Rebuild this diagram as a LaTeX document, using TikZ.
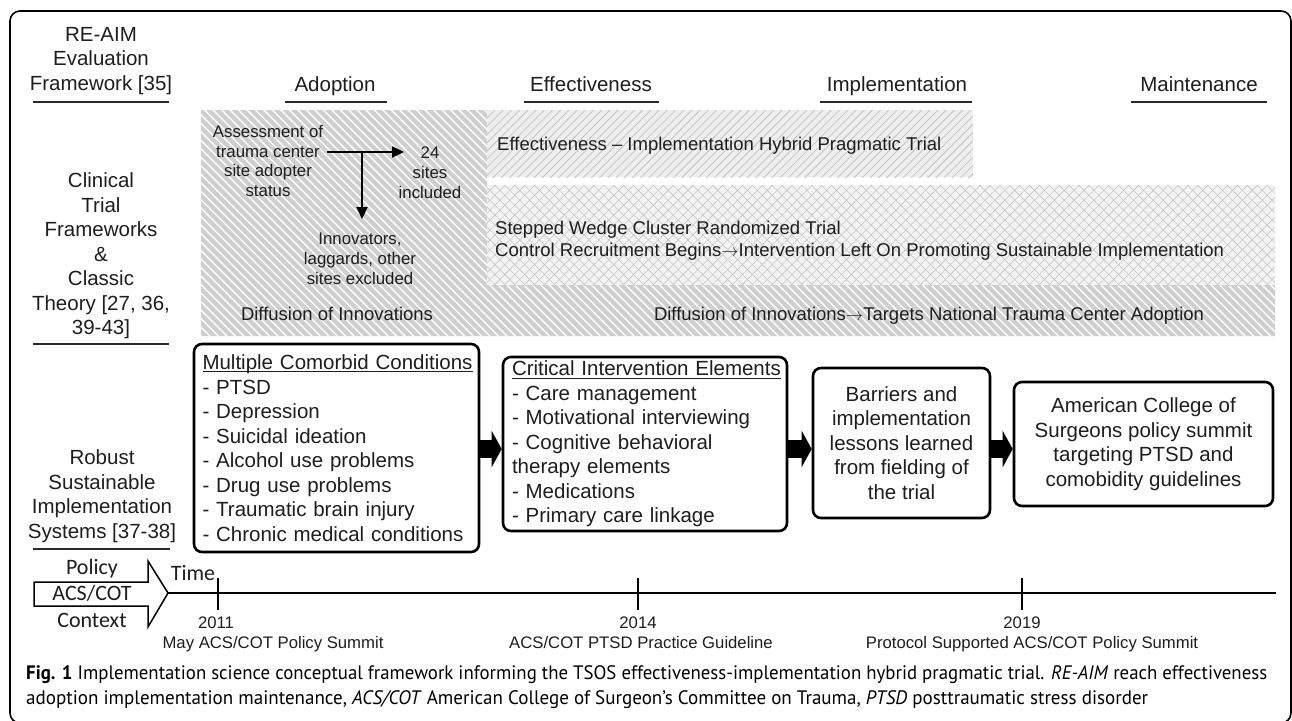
\documentclass[tikz,border=0pt]{standalone}
\usepackage{fontspec}
\setmainfont{Liberation Sans}
\newfontfamily\calfont{Carlito}
\newfontfamily\capfont{PT Sans}
\usetikzlibrary{patterns.meta,arrows.meta}
\definecolor{txt}{HTML}{1E1E1E}
\definecolor{ulgray}{HTML}{2A2A2A}
\definecolor{darkfill}{HTML}{CFCFCF}
\definecolor{lightfill}{HTML}{EEEEEE}
\definecolor{hatch}{HTML}{C2C2C2}
\definecolor{xfill}{HTML}{F3F3F3}
\definecolor{xhatch}{HTML}{C6C6C6}
\newcommand\myul[1]{\setbox0\hbox{#1}\rlap{\rule[-2.8pt]{\wd0}{1.1pt}}\box0}
\newcommand\rarr{$\rightarrow$}
\newsavebox\capboxA
\newsavebox\capboxB
\begin{document}
\sbox\capboxA{\capfont\fontsize{19.5}{25}\selectfont\textbf{Fig. 1} Implementation science conceptual framework informing the TSOS effectiveness-implementation hybrid pragmatic trial. \textit{RE-AIM} reach effectiveness}%
\sbox\capboxB{\capfont\fontsize{19.5}{25}\selectfont adoption implementation maintenance, \textit{ACS/COT} American College of Surgeon’s Committee on Trauma, \textit{PTSD} posttraumatic stress disorder}%
\pgfmathsetmacro\capsc{1241/\the\wd\capboxA}%
\pgfmathsetmacro\capscb{1122/\the\wd\capboxB}%
\begin{tikzpicture}[x=1pt,y=-1pt,
  every node/.style={inner sep=0pt, text=txt},
  lab/.style={align=center, font=\fontsize{20.5}{24.5}\selectfont},
  shd/.style={font=\fontsize{18.5}{22}\selectfont},
  sml/.style={align=center, font=\fontsize{16.8}{19.8}\selectfont},
  tl/.style={font=\fontsize{16.7}{20}\selectfont},
  cal/.style={align=center, font=\calfont\fontsize{22}{26.5}\selectfont},
  ul/.style={line width=2.8pt, draw=ulgray},
  box/.style={draw=black, line width=2.6pt, rounded corners=8pt, font=\fontsize{20.5}{24.5}\selectfont},
  blockarrow/.style={line width=18pt, -{Triangle[length=10pt,width=36pt]}},
  thinarrow/.style={line width=2pt, -{Triangle[length=12pt,width=11pt]}}]
\clip (0,0) rectangle (1292,720);
\fill[white] (0,0) rectangle (1292,720);
% outer frame
\draw[line width=1.6pt, rounded corners=10pt] (10,11) rectangle (1291,723);

% shaded regions
\path[fill=darkfill] (201,110) -- (487,110) -- (487,285) -- (1275,285) -- (1275,336) -- (201,336) -- cycle;
\path[pattern={Lines[angle=-45,distance=6pt,line width=1.4pt]}, pattern color=white] (201,110) -- (487,110) -- (487,285) -- (1275,285) -- (1275,336) -- (201,336) -- cycle;
\path[fill=lightfill] (487,110) rectangle (973,177);
\path[pattern={Lines[angle=45,distance=5.8pt,line width=0.8pt]}, pattern color=hatch] (487,110) rectangle (973,177);
\path[fill=xfill] (487,185) rectangle (1275,285);
\path[pattern={Lines[angle=45,distance=7pt,line width=0.6pt]}, pattern color=xhatch] (487,185) rectangle (1275,285);
\path[pattern={Lines[angle=-45,distance=7pt,line width=0.6pt]}, pattern color=xhatch] (487,185) rectangle (1275,285);

% left labels
\node[lab] (reaim) at (101,61) {RE-AIM\\Evaluation\\Framework [35]};
\node[lab] (ctf) at (101,256) {Clinical\\Trial\\Frameworks\\\&\\Classic\\Theory [27, 36,\\39-43]};
\node[lab] (rsis) at (102,496) {Robust\\Sustainable\\Implementation\\Systems [37-38]};
\draw[ul] (33,102) -- (169,102);
\draw[ul] (33,344) -- (169,344);
\draw[ul] (33,549) -- (170,549);

% column headers
\node[lab, anchor=base] (hadopt) at (335,91) {Adoption};
\node[lab, anchor=base] (heff) at (591,91) {Effectiveness};
\node[lab, anchor=base] (himp) at (897,91) {Implementation};
\node[lab, anchor=base] (hmain) at (1199,91) {Maintenance};
\draw[ul] (285,102) -- (387,102);
\draw[ul] (524,102) -- (659,102);
\draw[ul] (820,102) -- (972,102);
\draw[ul] (1131,102) -- (1267,102);

% adoption column
\node[sml] (assess) at (268,161) {Assessment of\\trauma center\\site adopter\\status};
\node[sml] (incl) at (430,173) {24\\sites\\included};
\node[sml] (excl) at (360,259) {Innovators,\\laggards, other\\sites excluded};
\node[shd, anchor=base] (diff1) at (337,320) {Diffusion of Innovations};
\coordinate (hs) at (327,152);
\coordinate (vs) at (362,152);
\coordinate (he) at (404,152);
\coordinate (ve) at (362,219);
\draw[thinarrow] (hs) -- (he);
\draw[thinarrow] (vs) -- (ve);

% trial texts
\node[shd, anchor=base west] (hyb) at (497,150) {Effectiveness – Implementation Hybrid Pragmatic Trial};
\node[shd, anchor=west, align=left] (swc) at (495,241) {Stepped Wedge Cluster Randomized Trial\\Control Recruitment Begins\rarr Intervention Left On Promoting Sustainable Implementation};
\node[shd, anchor=base] (diff2) at (929,320) {Diffusion of Innovations\rarr Targets National Trauma Center Adoption};

% boxes
\node[box, minimum width=285pt, minimum height=208pt, text width=268pt, align=left] (b1) at (336.5,448)
 {\myul{Multiple Comorbid Conditions}\\- PTSD\\- Depression\\- Suicidal ideation\\- Alcohol use problems\\- Drug use problems\\- Traumatic brain injury\\- Chronic medical conditions};
\node[box, minimum width=284pt, minimum height=174pt, text width=266pt, align=left] (b2) at (645,444)
 {\myul{Critical Intervention Elements}\\- Care management\\- Motivational interviewing\\- Cognitive behavioral\\therapy elements\\- Medications\\- Primary care linkage};
\node[box, minimum width=177pt, minimum height=150pt, align=center] (b3) at (901.5,443)
 {Barriers and\\implementation\\lessons learned\\from fielding of\\the trial};
\node[box, minimum width=259pt, minimum height=124pt, align=center] (b4) at (1143.5,444)
 {American College of\\Surgeons policy summit\\targeting PTSD and\\comobidity guidelines};
\coordinate (ay) at (0,449);
\draw[blockarrow] (b1.east |- ay) -- (b2.west |- ay);
\draw[blockarrow] (b2.east |- ay) -- (b3.west |- ay);
\draw[blockarrow] (b3.east |- ay) -- (b4.west |- ay);

% policy arrow and timeline
\draw[line width=1.5pt, fill=white] (34,582) -- (148,582) -- (148,561) -- (168,593) -- (148,627) -- (148,606) -- (34,606) -- cycle;
\node[cal] (pol) at (92,593) {Policy\\ACS/COT\\Context};
\node[cal] (time) at (193,573) {Time};
\coordinate (ptip) at (168,593);
\coordinate (tend) at (1276,593);
\draw[line width=2pt] (ptip) -- (tend);
\draw[line width=2pt] (218,578) -- (218,610);
\draw[line width=2pt] (638,578) -- (638,610);
\draw[line width=2pt] (1022,578) -- (1022,610);
\node[tl, anchor=base] (y11) at (216,628) {2011};
\node[tl, anchor=base] (e11) at (273,648) {May ACS/COT Policy Summit};
\node[tl, anchor=base] (y14) at (638,628) {2014};
\node[tl, anchor=base] (e14) at (641,648) {ACS/COT PTSD Practice Guideline};
\node[tl, anchor=base] (y19) at (1022,628) {2019};
\node[tl, anchor=base] (e19) at (1032,648) {Protocol Supported ACS/COT Policy Summit};

% caption
\node[anchor=base west, text=black!85] (cap1) at (26,679) {\scalebox{\capsc}[1]{\usebox\capboxA}};
\node[anchor=base west, text=black!85] (cap2) at (26,704) {\scalebox{\capscb}[1]{\usebox\capboxB}};
\end{tikzpicture}
\end{document}
